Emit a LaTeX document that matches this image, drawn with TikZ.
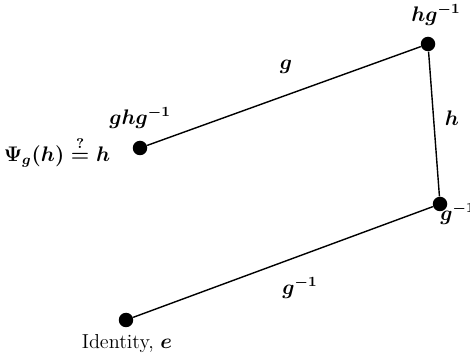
\documentclass[tikz,border=0pt]{standalone}
\usepackage{amsmath}
\begin{document}
\boldmath
\begin{tikzpicture}[x=0.02cm, y=-0.02cm,
  font=\fontsize{11.5}{14}\selectfont,
  pt/.style={circle, fill=black, inner sep=0pt, minimum size=0.29cm}]
  \useasboundingbox (0,0) rectangle (470,354);

  % Les quatre points
  \node[pt] (ghg) at (140,148) {};
  \node[pt] (hg) at (428,44) {};
  \node[pt] (gi) at (440,204) {};
  \node[pt] (e) at (126,320) {};

  % Segments
  \draw[thick] (ghg) -- (hg);
  \draw[thick] (hg) -- (gi);
  \draw[thick] (gi) -- (e);

  % Etiquettes des points
  \node (lghg) at (140,118) {$ghg^{-1}$};
  \node (lhg) at (436,15) {$hg^{-1}$};
  \node[anchor=west, inner sep=0pt] (lgi) at (440,214) {$g^{-1}$};
  \node (le) at (127,344) {Identity, $e$};

  % Etiquettes des segments
  \node (lg) at (286,67) {$g$};
  \node (lh) at (452,118) {$h$};
  \node (lginv) at (300,288) {$g^{-1}$};

  % Question a gauche
  \node (psi) at (57,152) {$\Psi_g(h) \overset{?}{=} h$};
\end{tikzpicture}
\end{document}
